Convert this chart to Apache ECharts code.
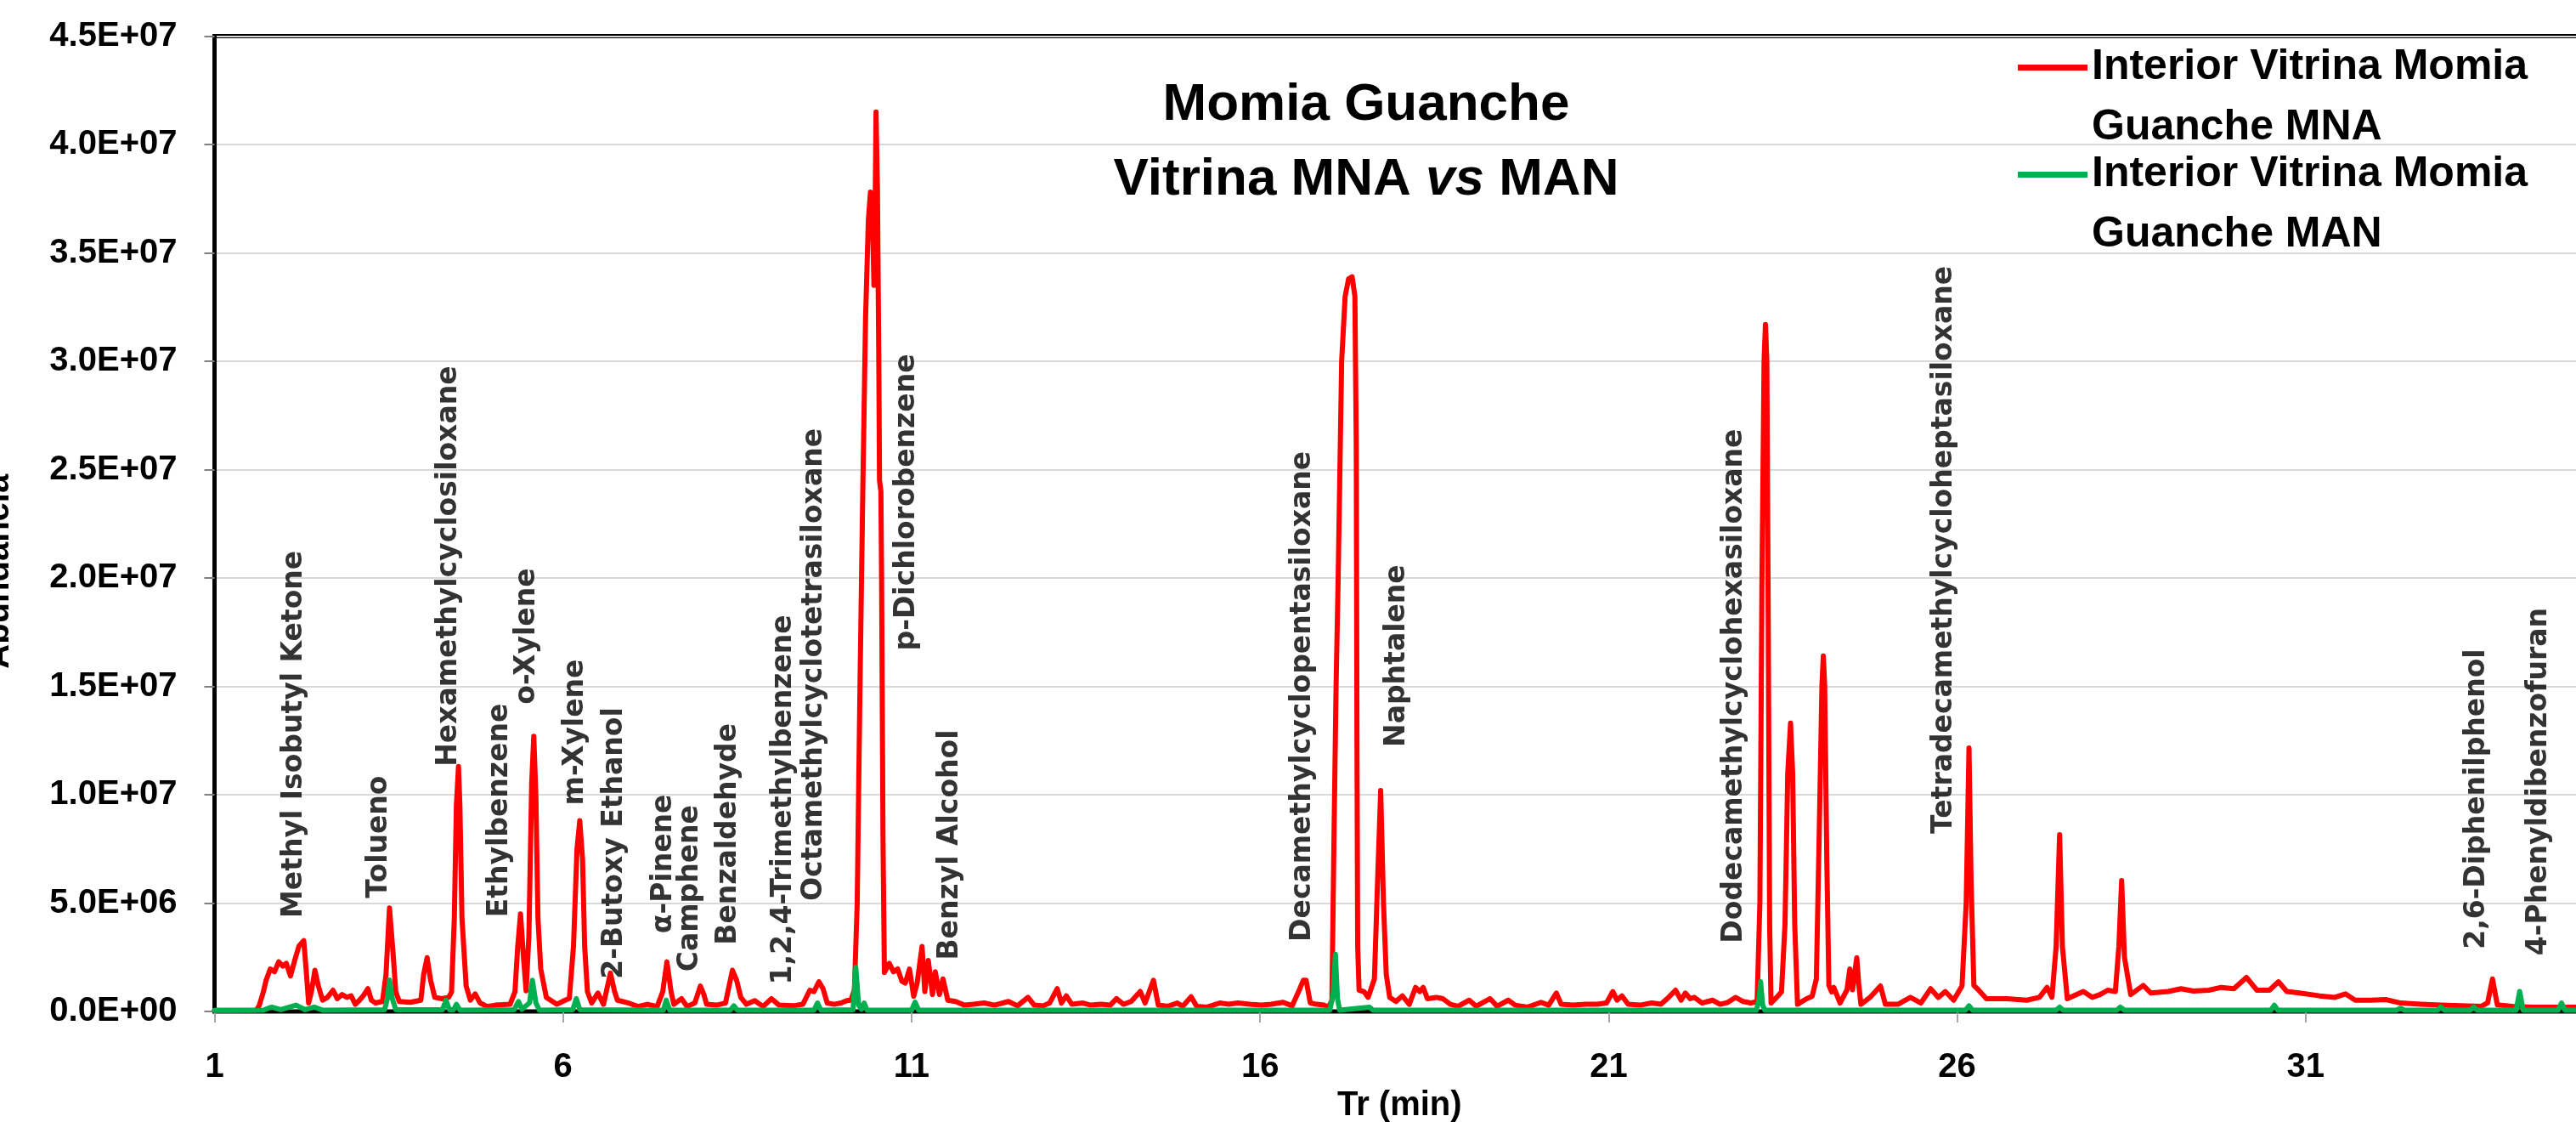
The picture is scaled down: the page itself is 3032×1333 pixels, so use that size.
<!DOCTYPE html>
<html><head><meta charset="utf-8">
<script src="https://cdn.jsdelivr.net/npm/echarts@6/dist/echarts.min.js"></script>
<style>html,body{margin:0;padding:0;background:#fff}#c{width:3032px;height:1333px}</style>
</head><body><div id="c"></div><script>
// Retention time (min) / abundance (millions of counts)
const UNIT = 1e6;
const redName = 'Interior Vitrina Momia Guanche MNA';
const greenName = 'Interior Vitrina Momia Guanche MAN';
const redTrace = [[1.00,0.05],[1.30,0.05],[1.60,0.06],[1.64,0.26],[1.70,0.90],[1.74,1.44],[1.80,1.96],[1.86,1.83],[1.92,2.29],[1.98,2.09],[2.03,2.22],[2.09,1.64],[2.15,2.35],[2.21,3.01],[2.28,3.27],[2.32,1.70],[2.35,0.39],[2.39,0.91],[2.44,1.90],[2.49,1.17],[2.55,0.52],[2.62,0.65],[2.70,0.98],[2.76,0.59],[2.83,0.78],[2.90,0.65],[2.96,0.72],[3.02,0.33],[3.08,0.52],[3.14,0.75],[3.20,1.05],[3.25,0.52],[3.31,0.39],[3.41,0.46],[3.46,1.70],[3.51,4.77],[3.56,2.75],[3.60,0.91],[3.65,0.46],[3.81,0.42],[3.96,0.52],[4.00,1.70],[4.05,2.48],[4.10,1.44],[4.16,0.65],[4.26,0.59],[4.36,0.65],[4.40,0.90],[4.44,4.30],[4.47,9.50],[4.50,11.30],[4.52,9.50],[4.55,4.30],[4.61,1.17],[4.67,0.52],[4.74,0.81],[4.81,0.39],[4.91,0.23],[5.03,0.29],[5.24,0.33],[5.31,0.91],[5.35,3.00],[5.39,4.50],[5.43,2.60],[5.47,0.95],[5.51,3.50],[5.55,10.50],[5.58,12.70],[5.61,10.00],[5.64,4.30],[5.68,1.96],[5.76,0.65],[5.91,0.33],[6.03,0.52],[6.09,0.60],[6.15,3.01],[6.20,7.50],[6.24,8.80],[6.28,7.00],[6.31,3.00],[6.35,0.91],[6.41,0.39],[6.50,0.85],[6.58,0.33],[6.68,1.77],[6.74,0.91],[6.78,0.52],[6.94,0.39],[7.07,0.23],[7.21,0.33],[7.35,0.23],[7.43,0.91],[7.49,2.29],[7.55,0.91],[7.59,0.33],[7.70,0.59],[7.78,0.23],[7.89,0.39],[7.97,1.17],[8.02,0.78],[8.06,0.33],[8.20,0.29],[8.33,0.39],[8.43,1.90],[8.49,1.44],[8.55,0.65],[8.63,0.33],[8.75,0.50],[8.87,0.23],[8.99,0.59],[9.10,0.29],[9.30,0.26],[9.44,0.33],[9.54,0.98],[9.60,0.91],[9.67,1.37],[9.73,1.05],[9.79,0.39],[9.89,0.33],[9.99,0.39],[10.07,0.50],[10.13,0.52],[10.18,1.00],[10.22,5.00],[10.26,15.0],[10.30,24.0],[10.34,32.0],[10.38,36.5],[10.41,37.8],[10.44,36.5],[10.46,33.5],[10.48,38.0],[10.49,41.5],[10.51,38.0],[10.53,30.0],[10.54,24.5],[10.56,24.0],[10.57,20.0],[10.59,8.0],[10.61,1.80],[10.68,2.22],[10.74,1.83],[10.80,1.96],[10.86,1.40],[10.91,1.31],[10.97,1.96],[11.03,0.70],[11.08,1.31],[11.15,3.00],[11.19,0.92],[11.24,2.35],[11.30,0.78],[11.34,1.83],[11.40,0.78],[11.45,1.50],[11.52,0.52],[11.63,0.46],[11.76,0.29],[11.89,0.33],[12.04,0.39],[12.19,0.29],[12.39,0.46],[12.52,0.26],[12.67,0.65],[12.76,0.29],[12.89,0.26],[12.98,0.39],[13.09,1.05],[13.15,0.39],[13.22,0.72],[13.30,0.33],[13.46,0.39],[13.57,0.29],[13.72,0.33],[13.85,0.29],[13.94,0.59],[14.04,0.33],[14.15,0.46],[14.28,0.92],[14.35,0.39],[14.47,1.44],[14.54,0.29],[14.68,0.24],[14.81,0.39],[14.89,0.24],[15.01,0.68],[15.09,0.24],[15.24,0.20],[15.42,0.39],[15.55,0.33],[15.68,0.39],[15.85,0.33],[16.02,0.29],[16.16,0.33],[16.33,0.42],[16.46,0.26],[16.57,1.05],[16.62,1.44],[16.66,1.44],[16.72,0.39],[16.81,0.33],[16.92,0.29],[16.98,0.20],[17.03,0.50],[17.06,8.0],[17.09,15.0],[17.12,20.0],[17.17,30.0],[17.22,33.0],[17.27,33.8],[17.32,33.9],[17.36,33.0],[17.38,26.0],[17.39,12.0],[17.40,3.0],[17.42,0.98],[17.49,0.92],[17.55,0.65],[17.64,1.50],[17.68,5.50],[17.73,10.2],[17.77,5.00],[17.81,1.70],[17.86,0.65],[17.95,0.46],[18.04,0.72],[18.14,0.33],[18.23,1.11],[18.29,0.92],[18.34,1.11],[18.40,0.59],[18.53,0.65],[18.62,0.59],[18.73,0.33],[18.84,0.24],[19.00,0.52],[19.10,0.24],[19.30,0.59],[19.40,0.24],[19.56,0.52],[19.66,0.29],[19.84,0.20],[20.03,0.42],[20.14,0.29],[20.25,0.85],[20.32,0.33],[20.49,0.29],[20.67,0.33],[20.84,0.33],[20.97,0.39],[21.06,0.92],[21.12,0.52],[21.19,0.72],[21.28,0.33],[21.45,0.29],[21.62,0.39],[21.75,0.33],[21.86,0.65],[21.96,0.98],[22.04,0.52],[22.10,0.85],[22.17,0.59],[22.23,0.65],[22.34,0.39],[22.49,0.52],[22.60,0.33],[22.71,0.42],[22.82,0.65],[22.93,0.46],[23.04,0.39],[23.13,0.46],[23.17,5.0],[23.20,20.0],[23.23,30.0],[23.25,31.7],[23.27,30.0],[23.29,18.0],[23.31,4.0],[23.33,0.39],[23.41,0.65],[23.48,0.90],[23.53,4.0],[23.57,11.0],[23.61,13.3],[23.64,11.0],[23.67,4.0],[23.71,0.33],[23.84,0.59],[23.92,0.70],[23.98,1.50],[24.02,8.0],[24.06,15.0],[24.08,16.4],[24.10,15.0],[24.13,7.0],[24.16,1.20],[24.20,0.90],[24.23,1.11],[24.32,0.39],[24.42,1.00],[24.46,1.96],[24.50,1.00],[24.54,2.00],[24.56,2.48],[24.59,1.20],[24.62,0.33],[24.75,0.65],[24.90,1.18],[24.97,0.33],[25.15,0.33],[25.33,0.65],[25.48,0.39],[25.62,1.05],[25.73,0.65],[25.83,0.92],[25.95,0.52],[26.07,1.18],[26.13,5.0],[26.17,12.16],[26.20,6.0],[26.24,1.20],[26.31,0.98],[26.42,0.59],[26.71,0.59],[27.00,0.52],[27.18,0.65],[27.29,1.11],[27.36,0.65],[27.42,3.0],[27.47,8.16],[27.51,3.0],[27.58,0.59],[27.81,0.92],[27.94,0.65],[28.05,0.78],[28.16,0.98],[28.27,0.92],[28.32,3.0],[28.36,6.04],[28.40,2.5],[28.49,0.78],[28.67,1.20],[28.78,0.85],[29.03,0.92],[29.21,1.05],[29.39,0.94],[29.61,0.98],[29.79,1.11],[29.97,1.05],[30.15,1.57],[30.30,0.98],[30.48,0.98],[30.61,1.37],[30.73,0.92],[30.91,0.85],[31.20,0.72],[31.42,0.65],[31.57,0.81],[31.71,0.52],[31.93,0.52],[32.15,0.55],[32.36,0.39],[32.65,0.33],[32.94,0.29],[33.23,0.26],[33.52,0.24],[33.61,0.40],[33.68,1.50],[33.75,0.30],[33.96,0.24],[34.25,0.20],[34.54,0.20],[35.00,0.20]];
const greenTrace = [[1.00,0.05],[1.70,0.06],[1.82,0.20],[1.95,0.08],[2.17,0.29],[2.30,0.08],[2.43,0.20],[2.55,0.06],[3.44,0.08],[3.48,0.60],[3.51,1.45],[3.55,0.60],[3.60,0.08],[4.27,0.08],[4.32,0.52],[4.37,0.08],[4.43,0.08],[4.47,0.33],[4.52,0.06],[5.30,0.08],[5.36,0.46],[5.41,0.10],[5.52,0.40],[5.56,1.44],[5.61,0.40],[5.66,0.06],[6.14,0.08],[6.19,0.59],[6.24,0.08],[7.44,0.06],[7.48,0.52],[7.53,0.06],[8.40,0.06],[8.45,0.26],[8.50,0.06],[9.60,0.06],[9.65,0.39],[9.70,0.06],[10.16,0.08],[10.20,2.03],[10.24,0.30],[10.28,0.10],[10.32,0.39],[10.36,0.06],[11.00,0.06],[11.05,0.43],[11.10,0.06],[17.00,0.06],[17.05,0.80],[17.08,2.64],[17.11,0.60],[17.14,0.06],[17.57,0.20],[17.62,0.06],[23.12,0.06],[23.16,0.60],[23.18,1.37],[23.21,0.30],[23.24,0.06],[26.12,0.06],[26.17,0.26],[26.22,0.06],[27.42,0.06],[27.47,0.20],[27.52,0.06],[28.29,0.06],[28.34,0.20],[28.40,0.06],[30.50,0.06],[30.55,0.29],[30.60,0.06],[32.30,0.06],[32.36,0.15],[32.42,0.06],[32.89,0.06],[32.94,0.20],[32.99,0.06],[33.36,0.06],[33.41,0.20],[33.46,0.06],[34.02,0.06],[34.07,0.92],[34.12,0.06],[34.62,0.06],[34.67,0.39],[34.72,0.06],[35.00,0.06]];
const compoundNames = ['Methyl Isobutyl Ketone','Tolueno','Hexamethylcyclosiloxane','Ethylbenzene','o-Xylene','m-Xylene','2-Butoxy Ethanol','α-Pinene','Camphene','Benzaldehyde','1,2,4-Trimethylbenzene','Octamethylcyclotetrasiloxane','p-Dichlorobenzene','Benzyl Alcohol','Decamethylcyclopentasiloxane','Naphtalene','Dodecamethylcyclohexasiloxane','Tetradecamethylcycloheptasiloxane','2,6-Diphenilphenol','4-Phenyldibenzofuran'];
const compoundTime = [2.15,3.36,4.36,5.09,5.48,6.18,6.74,7.45,7.82,8.37,9.17,9.61,10.93,11.56,16.61,17.96,22.81,25.82,33.46,34.35];
const compoundLabelLevel = [4.31,5.23,11.3,4.34,14.17,9.51,1.50,3.60,1.83,3.07,1.24,5.10,16.65,2.37,3.22,12.2,3.15,8.2,2.87,2.58];
const xTicks = {min: 1, max: 35, interval: 5};
const yTicks = {min: 0, max: 4.5e7, interval: 5e6};

function fmtE(v) {
  const s = Number(v).toExponential(1).split('e');
  const sign = s[1][0];
  const d = s[1].slice(1).padStart(2, '0');
  return s[0] + 'E' + sign + d;
}
const AX_FONT = 'Liberation Sans';
const chart = echarts.init(document.getElementById('c'), null, {renderer: 'canvas'});
const option = {
  animation: false,
  backgroundColor: '#ffffff',
  title: {
    text: 'Momia Guanche\n{n|Vitrina MNA }{i|vs}{n| MAN}',
    left: 1608, top: 80, textAlign: 'center', padding: 0,
    textStyle: {
      fontFamily: AX_FONT, fontSize: 62, fontWeight: 'bold', color: '#000', lineHeight: 88,
      rich: {
        n: {fontFamily: AX_FONT, fontSize: 62, fontWeight: 'bold', color: '#000', lineHeight: 88},
        i: {fontFamily: AX_FONT, fontSize: 62, fontWeight: 'bold', fontStyle: 'italic', color: '#000', lineHeight: 88}
      }
    }
  },
  legend: {
    data: [redName, greenName],
    orient: 'vertical', left: 2375, top: -27, padding: 0,
    icon: 'rect', itemWidth: 82, itemHeight: 7, itemGap: -87,
    formatter: n => '\n' + n.replace(' Guanche', '\nGuanche'),
    textStyle: {fontFamily: AX_FONT, fontSize: 50, fontWeight: 'bold', color: '#000', lineHeight: 71}
  },
  grid: {left: 252.5, right: -10, top: 42.5, bottom: 143, show: true, borderColor: '#000', borderWidth: 5, containLabel: false, outerBoundsMode: 'none'},
  xAxis: {
    type: 'value', min: xTicks.min, max: xTicks.max, interval: xTicks.interval,
    name: 'Tr (min)', nameLocation: 'middle', nameGap: 82,
    nameTextStyle: {fontFamily: AX_FONT, fontSize: 40, fontWeight: 'bold', color: '#000'},
    axisLine: {show: true, onZero: false, lineStyle: {color: '#000', width: 4}},
    axisTick: {show: true, length: 13, lineStyle: {color: '#a6a6a6', width: 2}},
    axisLabel: {margin: 46, fontFamily: AX_FONT, fontSize: 40, fontWeight: 'bold', color: '#000', showMaxLabel: false},
    splitLine: {show: false}
  },
  yAxis: {
    type: 'value', min: yTicks.min, max: yTicks.max, interval: yTicks.interval,
    name: 'Abundancia', nameLocation: 'middle', nameRotate: 90, nameGap: 234,
    nameTextStyle: {fontFamily: AX_FONT, fontSize: 40, fontWeight: 'bold', color: '#000', padding: [0, 112, 0, 0]},
    axisLine: {show: true, lineStyle: {color: '#000', width: 5}},
    axisTick: {show: true, length: 12, lineStyle: {color: '#7f7f7f', width: 2}},
    axisLabel: {margin: 44, fontFamily: AX_FONT, fontSize: 40, fontWeight: 'bold', color: '#000', formatter: fmtE},
    splitLine: {show: true, lineStyle: {color: '#d9d9d9', width: 2}}
  },
  series: [
    {
      name: redName, type: 'line', showSymbol: false, symbol: 'none',
      data: redTrace.map(p => [p[0], p[1] * UNIT]),
      itemStyle: {color: '#ff0000'},
      lineStyle: {color: '#ff0000', width: 6, join: 'round', cap: 'round'},
      z: 2
    },
    {
      name: greenName, type: 'line', showSymbol: false, symbol: 'none',
      data: greenTrace.map(p => [p[0], p[1] * UNIT]),
      itemStyle: {color: '#00b050'},
      lineStyle: {color: '#00b050', width: 6, join: 'round', cap: 'round'},
      z: 3
    },
    {
      name: 'compounds', type: 'scatter', symbolSize: 0, silent: true, z: 5,
      data: compoundNames.map((n, i) => ({name: n, value: [compoundTime[i], compoundLabelLevel[i] * UNIT]})),
      label: {
        show: true, formatter: '{b}', rotate: 90, position: 'inside', align: 'left', verticalAlign: 'middle',
        fontFamily: 'DejaVu Sans', fontWeight: 'bold', fontSize: 33, color: '#000'
      },
      labelLayout: {hideOverlap: false}
    }
  ]
};
chart.setOption(option);
</script></body></html>
